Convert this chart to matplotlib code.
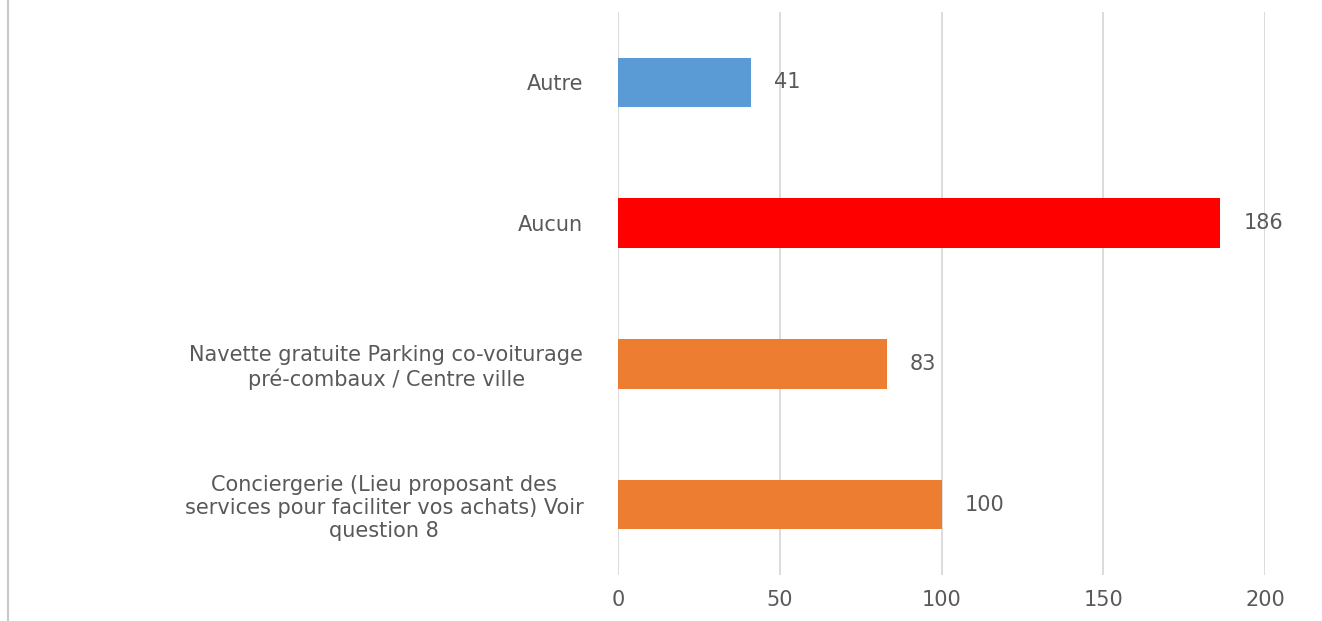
import matplotlib
matplotlib.use("Agg")
import matplotlib.pyplot as plt
from matplotlib.lines import Line2D

categories = [
    "Autre",
    "Aucun",
    "Navette gratuite Parking co-voiturage\npré-combaux / Centre ville",
    "Conciergerie (Lieu proposant des\nservices pour faciliter vos achats) Voir\nquestion 8",
]
values = [41, 186, 83, 100]
colors = ["#5B9BD5", "#FF0000", "#ED7D31", "#ED7D31"]
xticks = [0, 50, 100, 150, 200]

plt.rcParams['font.family'] = ['DejaVu Sans']
text_color = "#595959"

fig = plt.figure(figsize=(13.22, 6.21), dpi=100)
ax = fig.add_axes([618/1322, 1-575/621, (1265-618)/1322, (575-12)/621])

ypos = list(range(len(categories)))
bars = ax.barh(ypos, values, height=0.35, color=colors, zorder=3)
ax.set_ylim(len(categories)-0.5, -0.5)
ax.set_xlim(0, 200)
ax.set_xticks(xticks)
ax.set_xticklabels([str(t) for t in xticks])
ax.set_yticks(ypos)
ax.set_yticklabels(categories, ha="right", multialignment="center")
ax.tick_params(axis="x", length=0, pad=11, labelsize=15, labelcolor=text_color)
ax.tick_params(axis="y", length=0, pad=25, labelsize=15, labelcolor=text_color)
for lab in ax.get_yticklabels():
    lab.set_linespacing(1.2)

ax.grid(axis="x", color="#D9D9D9", linewidth=1.3, zorder=0)
for s in ax.spines.values():
    s.set_visible(False)

for b, v in zip(bars, values):
    ax.annotate(str(v), (v, b.get_y() + b.get_height()/2), xytext=(17, 0),
                textcoords="offset points", va="center", ha="left",
                fontsize=15, color=text_color)

fig.add_artist(Line2D([8/1322, 8/1322], [0, 1], transform=fig.transFigure,
                      color="#C8C8C8", linewidth=1.5))

fig.savefig("out.png", dpi=100, facecolor="white")
